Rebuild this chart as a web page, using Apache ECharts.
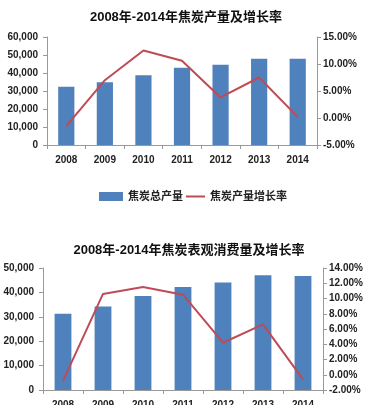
<!DOCTYPE html>
<html><head><meta charset="utf-8">
<script src="https://cdn.jsdelivr.net/npm/echarts@6/dist/echarts.min.js"></script>
<style>html,body{margin:0;padding:0;background:#fff}#c{width:370px;height:405px}</style>
</head><body><div id="c"></div>
<script>
var years = ['2008','2009','2010','2011','2012','2013','2014'];
var title1 = '2008年-2014年焦炭产量及增长率';
var title2 = '2008年-2014年焦炭表观消费量及增长率';
var prodName = '焦炭总产量';
var prodGrowthName = '焦炭产量增长率';
var consName = '焦炭表观消费量';
var consGrowthName = '焦炭表观消费量增长率';
var production = [32400, 34800, 38700, 42900, 44600, 47900, 47900];
var productionGrowth = [-1.5, 7.0, 12.5, 10.6, 3.8, 7.5, 0.2];
var consumption = [31200, 34200, 38500, 42200, 44100, 47000, 46700];
var consumptionGrowth = [-0.8, 10.6, 11.5, 10.5, 4.2, 6.6, -0.6];

var font = '"Liberation Sans","Noto Sans CJK SC",sans-serif';
var barColor = '#4F81BD', lineColor = '#BE4B55';
var txt = {color:'#222', fontSize:10, fontFamily:font, fontWeight:'bold'};
function numFmt(v){return v===0?'0':v.toLocaleString('en-US');}
function pctFmt(v){return v.toFixed(2)+'%';}
function yAxisL(gi,max){return {type:'value',gridIndex:gi,min:0,max:max,interval:10000,
  axisLine:{show:true,lineStyle:{color:'#999'}},axisTick:{show:true,length:4,lineStyle:{color:'#999'}},
  splitLine:{show:false},axisLabel:Object.assign({formatter:numFmt,margin:9},txt)};}
function yAxisR(gi,min,max,iv){return {type:'value',gridIndex:gi,position:'right',min:min,max:max,interval:iv,
  axisLine:{show:true,lineStyle:{color:'#999'}},axisTick:{show:true,length:4,lineStyle:{color:'#999'}},
  splitLine:{show:false},axisLabel:Object.assign({formatter:pctFmt,margin:6},txt)};}
function xAxis(gi,margin){return {type:'category',gridIndex:gi,data:years,
  axisLine:{lineStyle:{color:'#999'}},axisTick:{show:true,length:4,lineStyle:{color:'#999'}},
  axisLabel:Object.assign({margin:margin},txt)};}

var chart = echarts.init(document.getElementById('c'),null,{renderer:'canvas'});
chart.setOption({
  animation:false,
  title:[
    {text:title1,left:181,top:6,textAlign:'center',textStyle:{fontSize:13,fontWeight:'bold',color:'#111',fontFamily:font}},
    {text:title2,left:184,top:239,textAlign:'center',textStyle:{fontSize:13,fontWeight:'bold',color:'#111',fontFamily:font}}
  ],
  legend:[
    {data:[{name:prodName,icon:'rect'}],top:186,left:94,itemWidth:24,itemHeight:9,itemGap:4,
      textStyle:Object.assign({},txt,{fontSize:11})},
    {data:[{name:prodGrowthName,icon:'rect'}],top:186,left:181,itemWidth:19,itemHeight:2,itemGap:4,
      textStyle:Object.assign({},txt,{fontSize:11})}
  ],
  grid:[
    {left:47,right:53,top:37,height:108,outerBoundsMode:'none',containLabel:false},
    {left:43,right:47,top:268,height:122,outerBoundsMode:'none',containLabel:false}
  ],
  xAxis:[xAxis(0,10),xAxis(1,10)],
  yAxis:[yAxisL(0,60000),yAxisR(0,-5,15,5),yAxisL(1,50000),yAxisR(1,-2,14,2)],
  series:[
    {name:prodName,type:'bar',xAxisIndex:0,yAxisIndex:0,data:production,barWidth:'42%',itemStyle:{color:barColor}},
    {name:prodGrowthName,type:'line',xAxisIndex:0,yAxisIndex:1,data:productionGrowth,symbol:'none',lineStyle:{color:lineColor,width:2},itemStyle:{color:lineColor}},
    {name:consName,type:'bar',xAxisIndex:1,yAxisIndex:2,data:consumption,barWidth:'42%',itemStyle:{color:barColor}},
    {name:consGrowthName,type:'line',xAxisIndex:1,yAxisIndex:3,data:consumptionGrowth,symbol:'none',lineStyle:{color:lineColor,width:2},itemStyle:{color:lineColor}}
  ]
});
</script></body></html>
